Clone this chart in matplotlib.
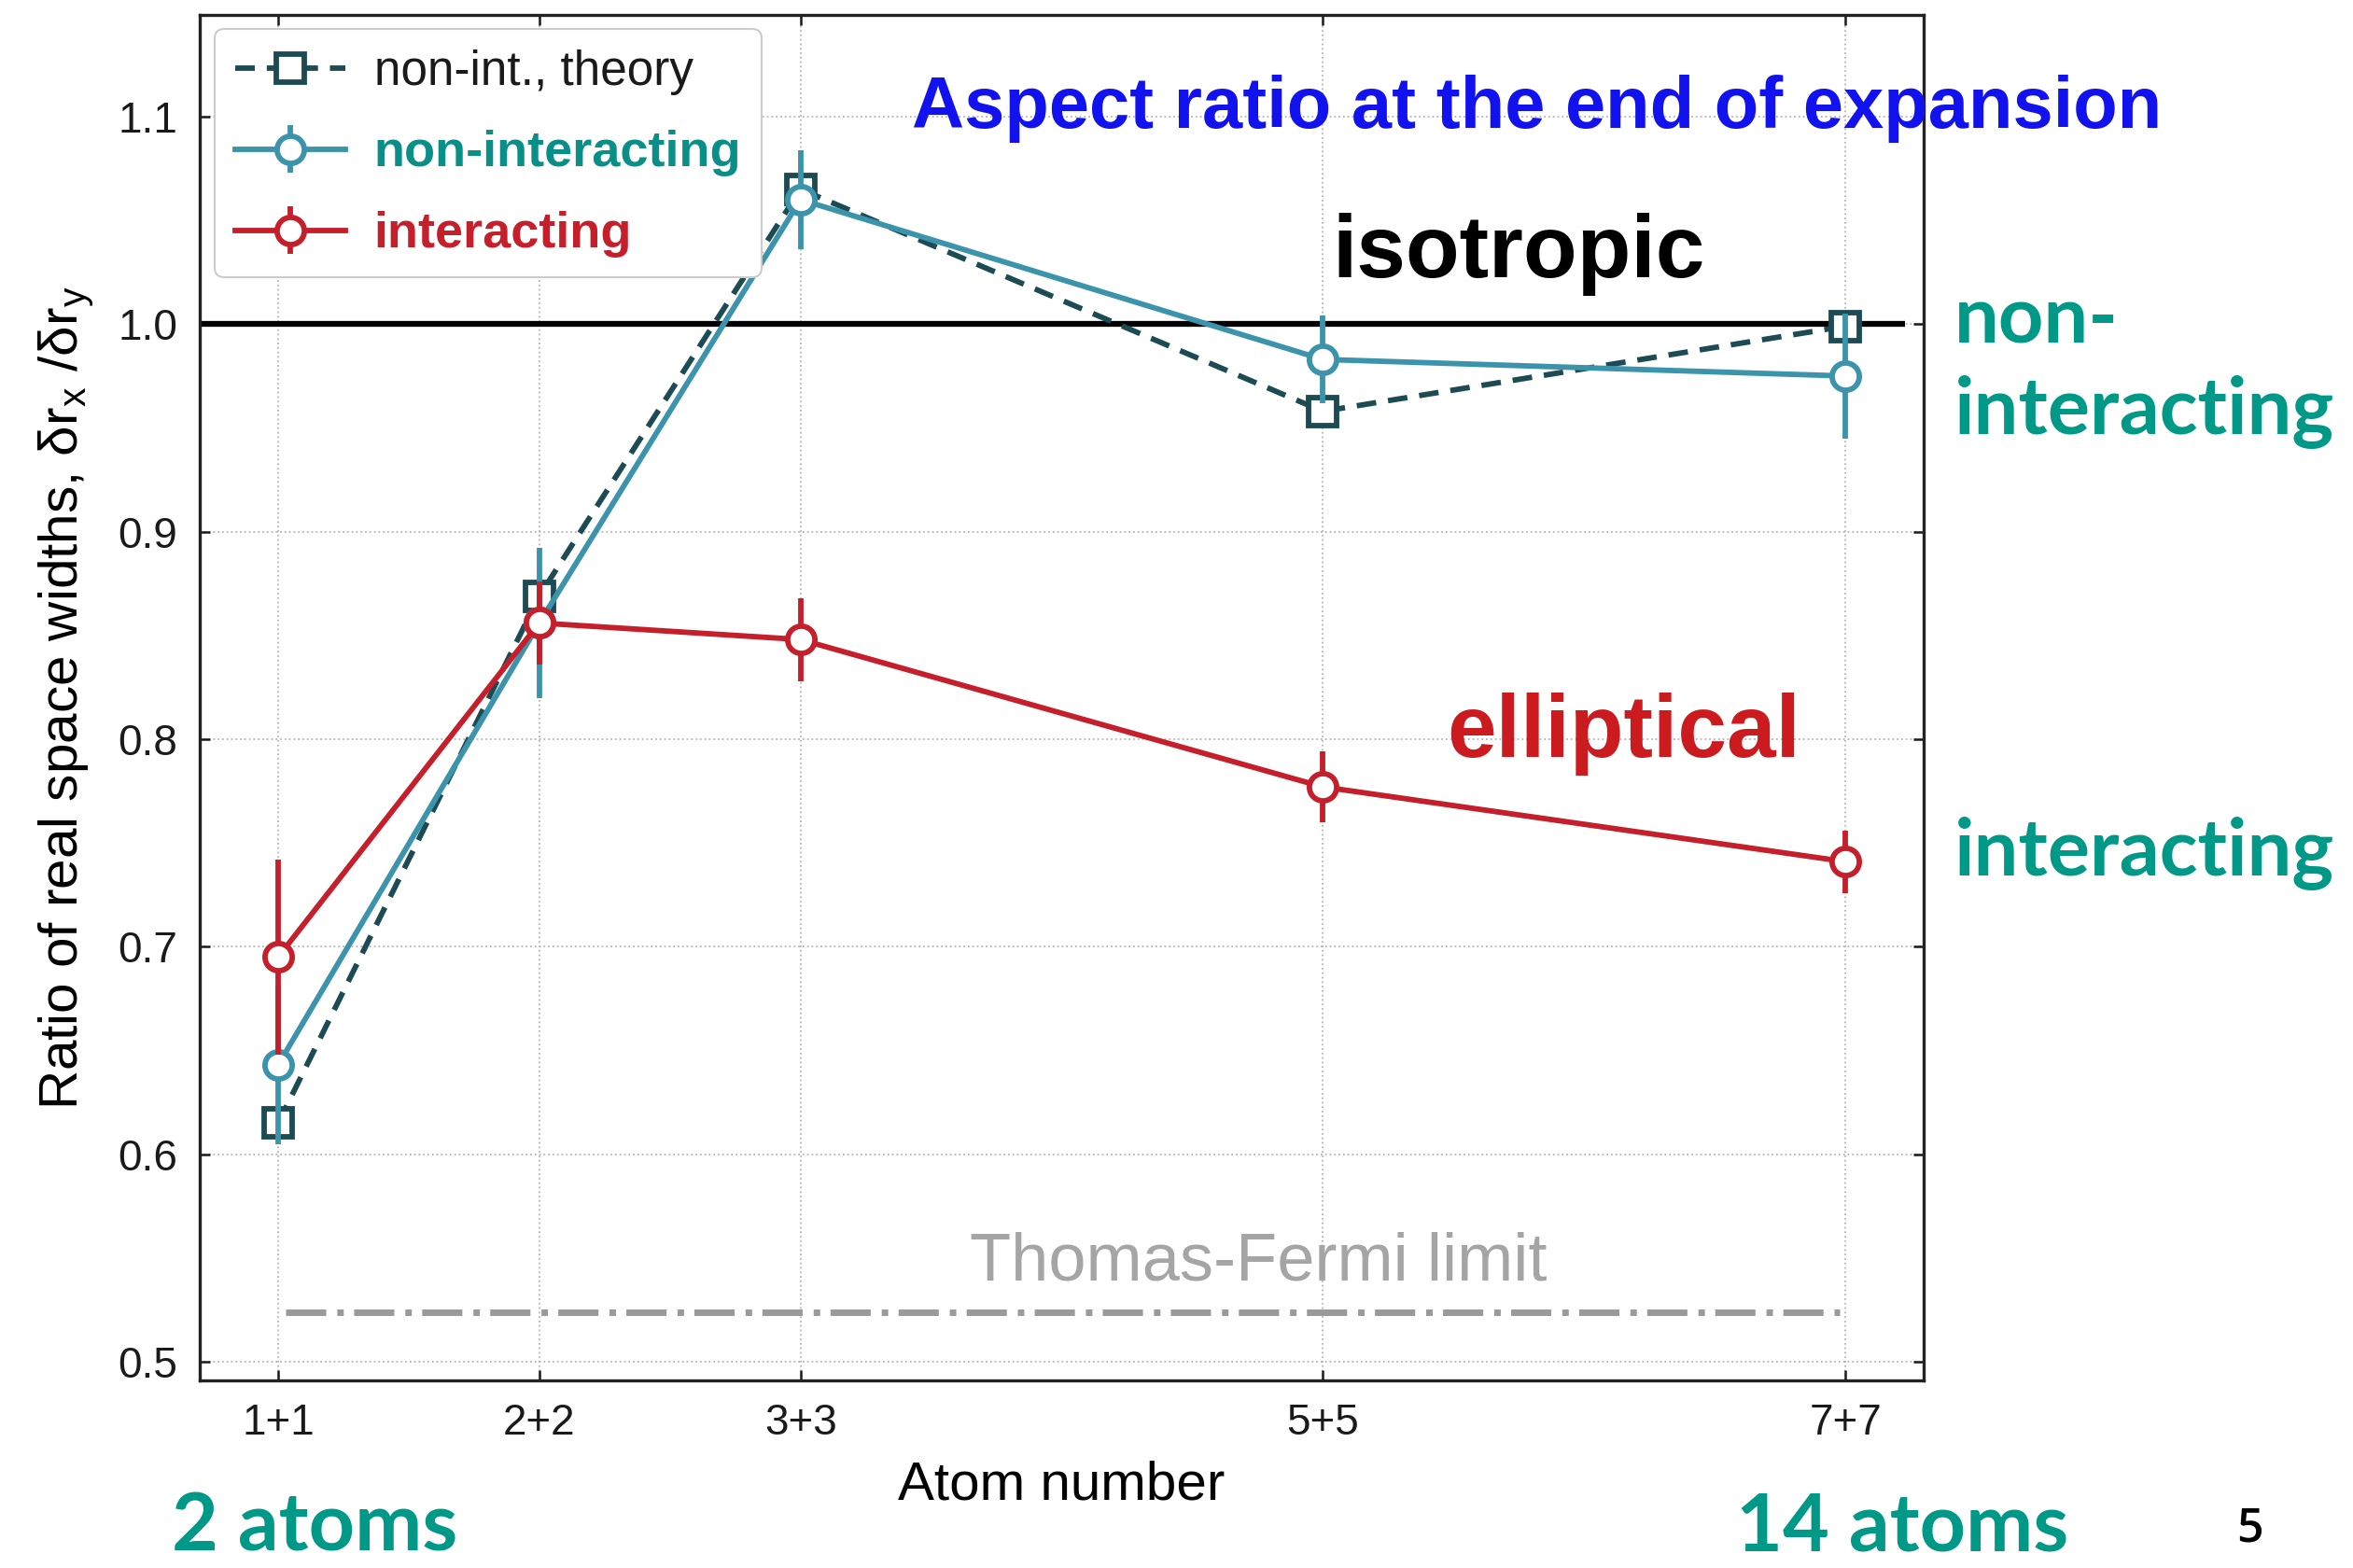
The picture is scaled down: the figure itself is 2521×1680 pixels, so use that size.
import matplotlib
matplotlib.use("Agg")
import matplotlib.pyplot as plt

plt.rcParams['font.family'] = ['Liberation Sans', 'DejaVu Sans']

# ---- data -------------------------------------------------------------
atom_labels = ['1+1', '2+2', '3+3', '5+5', '7+7']
atoms_per_state = [1, 2, 3, 5, 7]

theory = [0.615, 0.869, 1.065, 0.958, 0.999]

nonint = [0.643, 0.856, 1.060, 0.983, 0.975]
nonint_err = [0.038, 0.036, 0.024, 0.021, 0.030]

inter = [0.695, 0.856, 0.848, 0.777, 0.741]
inter_err = [0.047, 0.020, 0.020, 0.017, 0.015]

thomas_fermi = 0.524
isotropic = 1.0

y_ticks = [0.5, 0.6, 0.7, 0.8, 0.9, 1.0, 1.1]

# ---- style ------------------------------------------------------------
DARK = '#1d4b53'
CYAN = '#3c93ac'
RED = '#c51f2b'
TEAL = '#009886'
TEAL_LEG = '#0a8f88'
GREY = '#9a9a9a'
LW = 4.2

W, H = 2521, 1680
fig = plt.figure(figsize=(W / 100, H / 100), dpi=100)
ax = fig.add_axes([214 / W, 1 - 1479 / H, (2061 - 214) / W, (1479 - 16) / H])

ax.plot(atoms_per_state, theory, linestyle=(0, (3.6, 2.2)), color=DARK, lw=LW,
        marker='s', ms=22, mfc='white', mec=DARK, mew=LW,
        label='non-int., theory', zorder=3)
ax.errorbar(atoms_per_state, nonint, yerr=nonint_err, color=CYAN, lw=LW,
            elinewidth=LW, capsize=0, marker='o', ms=21, mfc='white',
            mec=CYAN, mew=LW, label='non-interacting', zorder=4)
ax.errorbar(atoms_per_state, inter, yerr=inter_err, color=RED, lw=LW,
            elinewidth=LW, capsize=0, marker='o', ms=21, mfc='white',
            mec=RED, mew=LW, label='interacting', zorder=5)

# isotropic reference and Thomas-Fermi limit
ax.hlines(isotropic, 0.7, 7.23, colors='black', lw=4.5, zorder=2)
ax.hlines(thomas_fermi, 1.03, 6.98, colors=GREY, lw=5,
          linestyles=[(0, (6.2, 1.7, 1, 1.6))], zorder=2)

ax.set_xlim(0.7, 7.3)
ax.set_ylim(0.491, 1.149)
ax.set_xticks(atoms_per_state)
ax.set_xticklabels(atom_labels)
ax.set_yticks(y_ticks)
ax.set_yticklabels([f'{v:.1f}' for v in y_ticks])

ax.grid(True, linestyle=':', color='#b5b5b5', lw=1.3)
ax.tick_params(direction='in', top=True, right=True, length=8, width=1.8,
               labelsize=33, pad=17, colors='#1a1a1a')
for s in ax.spines.values():
    s.set_linewidth(2.4)
    s.set_color('#222222')

ax.set_xlabel('Atom number', fontsize=42)
ax.xaxis.label.set_va('center')
ax.xaxis.set_label_coords(0.5, -0.0772)

ax.set_ylabel(r'Ratio of real space widths, δr$_\mathregular{x}$ /δr$_\mathregular{y}$',
              fontsize=42)
ax.yaxis.label.set_va('center')
ax.yaxis.set_label_coords(-0.0774, 0.5)

leg = ax.legend(loc='upper left', bbox_to_anchor=(0.0087, 0.9897),
                borderaxespad=0, fontsize=37, handlelength=2.3,
                handletextpad=0.6, labelspacing=0.72, borderpad=0.42,
                frameon=True, fancybox=True, edgecolor='#cccccc',
                framealpha=1)
leg.get_frame().set_linewidth(1.5)
t0, t1, t2 = leg.get_texts()
t0.set_color('#1a1a1a')
t1.set_color(TEAL_LEG)
t1.set_fontweight('bold')
t1.set_fontsize(39)
t2.set_color(RED)
t2.set_fontweight('bold')
t2.set_fontsize(39)


def ftext(x, y, s, **kw):
    fig.text(x / W, 1 - y / H, s, **kw)


ftext(1647, 137, 'Aspect ratio at the end of expansion', fontsize=56,
      fontweight='bold', color='#1212ee', ha='center', va='baseline')
ftext(1627, 297, 'isotropic', fontsize=68, fontweight='bold', color='black',
      ha='center', va='baseline')
ftext(1740, 811, 'elliptical', fontsize=68, fontweight='bold', color='#cc1b1f',
      ha='center', va='baseline')
ftext(1348, 1372, 'Thomas-Fermi limit', fontsize=52, color='#a5a5a5',
      ha='center', va='baseline')

side = dict(fontsize=61, fontweight='bold', color=TEAL, family='Lato',
            va='baseline', ha='left')
ftext(2094, 368, 'non-', **side)
ftext(2094, 464, 'interacting', **side)
ftext(2094, 937, 'interacting', **side)
bottom = dict(side, fontsize=62)
ftext(184, 1662, '2 atoms', **bottom)
ftext(1860, 1662, '14 atoms', **bottom)
ftext(2410, 1652, '5', fontsize=36, fontweight='semibold', family='Open Sans',
      color='black', ha='center', va='baseline')

fig.savefig('out.png', dpi=100)
